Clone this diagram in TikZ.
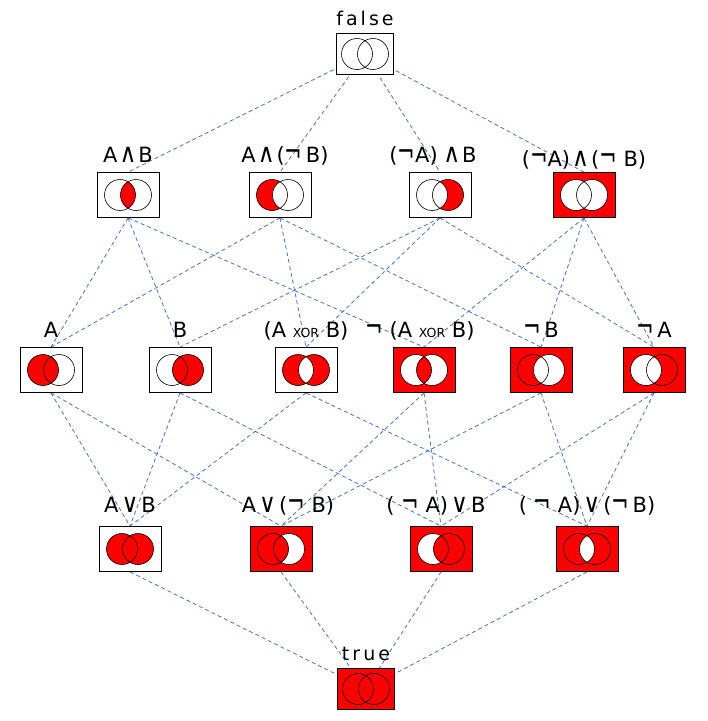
\documentclass[tikz,border=0pt]{standalone}
\usepackage{fontspec}
\usepackage{graphicx}
\setmainfont{DejaVu Sans}
\newfontfamily\spacedfont{DejaVu Sans}[LetterSpace=16]
\usetikzlibrary{backgrounds}

\definecolor{linkblue}{RGB}{68,114,196}
\newcommand\xorsc{{\fontsize{12.5pt}{12.5pt}\selectfont XOR}}
\newcommand\andsym{\hspace{2pt}\scalebox{1.1}[1.25]{∧}\hspace{2pt}}
\newcommand\orsym{\hspace{3pt}\scalebox{1.1}[1.25]{∨}\hspace{3pt}}
\newcommand\notsym{\scalebox{1}[1.45]{¬}}
% venn #1 = node, #2 = A only, #3 = A and B, #4 = B only
\newcommand\venn[4]{%
  \fill[#2] ([xshift=-8pt]#1.center) circle (15.5pt);
  \fill[#4] ([xshift=8pt]#1.center) circle (15.5pt);
  \begin{scope}
    \clip ([xshift=-8pt]#1.center) circle (15.5pt);
    \fill[#3] ([xshift=8pt]#1.center) circle (15.5pt);
  \end{scope}
  \draw[line width=0.6pt] ([xshift=-8pt]#1.center) circle (15.5pt)
                          ([xshift=8pt]#1.center) circle (15.5pt);}

\begin{document}
\begin{tikzpicture}
  [x=1pt,y=-1pt,
   box/.style={rectangle,draw=black,fill=white,line width=0.8pt,
               inner sep=0pt,minimum width=62pt,minimum height=45pt},
   redbox/.style={box,fill=red},
   endbox/.style={minimum width=57pt,minimum height=41pt},
   lbl/.style={font=\fontsize{21pt}{21pt}\selectfont,inner sep=0pt,
               text depth=0pt,label distance=9pt},
   lowlbl/.style={lbl,label distance=13pt},
   endlbl/.style={font=\fontsize{19pt}{19pt}\selectfont\spacedfont,inner sep=0pt,
               text depth=0pt,label distance=7pt},
   link/.style={draw=linkblue,dash pattern=on 4pt off 3pt,line width=0.8pt}]
  \useasboundingbox (0,0) rectangle (708,721);

  \node (f) at (365,54) [box,endbox,label={[endlbl]above:false}] {};

  \node (aandb)   at (128,195) [box,label={[lbl]above:{A\andsym B}}] {};
  \node (aandnb)  at (280,195) [box,label={[lbl,xshift=5pt]above:{A\andsym(\notsym\,B)}}] {};
  \node (naandb)  at (440,195) [box,label={[lbl,xshift=-7pt]above:{(\notsym A)\,\andsym B}}] {};
  \node (naandnb) at (584,195) [redbox,
        label={[lbl,label distance=5pt]above:{(\notsym A)\andsym(\notsym\ B)}}] {};

  \node (a)    at (51,370)  [box,label={[lbl]above:{A}}] {};
  \node (b)    at (180,370) [box,label={[lbl]above:{B}}] {};
  \node (axb)  at (306,370) [box,label={[lbl]above:{(A \xorsc\ B)}}] {};
  \node (naxb) at (424,370) [redbox,label={[lbl,xshift=-4pt]above:{\notsym\ (A \xorsc\ B)}}] {};
  \node (nb)   at (541,370) [redbox,label={[lbl]above:{\notsym\,B}}] {};
  \node (na)   at (654,370) [redbox,label={[lbl]above:{\notsym\,A}}] {};

  \node (aorb)   at (130,549) [box,label={[lowlbl]above:{A\orsym B}}] {};
  \node (aornb)  at (281,549) [redbox,label={[lowlbl,xshift=7pt]above:{A\orsym(\notsym\ B)}}] {};
  \node (naorb)  at (441,549) [redbox,label={[lowlbl,xshift=-5pt]above:{( \notsym\ A)\orsym B}}] {};
  \node (naornb) at (587,549) [redbox,label={[lowlbl]above:{( \notsym\ A)\orsym(\notsym\,B)}}] {};

  \node (t) at (366,689) [redbox,endbox,label={[endlbl]above:true}] {};

  \venn{f}{white}{white}{white}
  \venn{aandb}{white}{red}{white}
  \venn{aandnb}{red}{white}{white}
  \venn{naandb}{white}{white}{red}
  \venn{naandnb}{white}{white}{white}
  \venn{a}{red}{red}{white}
  \venn{b}{white}{red}{red}
  \venn{axb}{red}{white}{red}
  \venn{naxb}{white}{red}{white}
  \venn{nb}{red}{white}{white}
  \venn{na}{white}{white}{red}
  \venn{aorb}{red}{red}{red}
  \venn{aornb}{red}{red}{white}
  \venn{naorb}{white}{red}{red}
  \venn{naornb}{red}{white}{red}
  \venn{t}{red}{red}{red}

  \begin{scope}[on background layer]
    \foreach \v in {aandb,aandnb,naandb,naandnb}
      \draw[link] (f.center) -- (\v.north);
    \foreach \u/\v in {aandb/a,aandb/b,aandb/naxb,
                       aandnb/a,aandnb/axb,aandnb/nb,
                       naandb/b,naandb/axb,naandb/na,
                       naandnb/naxb,naandnb/nb,naandnb/na,
                       a/aorb,a/aornb,b/aorb,b/naorb,
                       axb/aorb,axb/naornb,naxb/aornb,naxb/naorb,
                       nb/aornb,nb/naornb,na/naorb,na/naornb}
      \draw[link] (\u.south) -- (\v.north);
    \foreach \u in {aorb,aornb,naorb,naornb}
      \draw[link] (\u.south) -- (t.center);
  \end{scope}
\end{tikzpicture}
\end{document}
